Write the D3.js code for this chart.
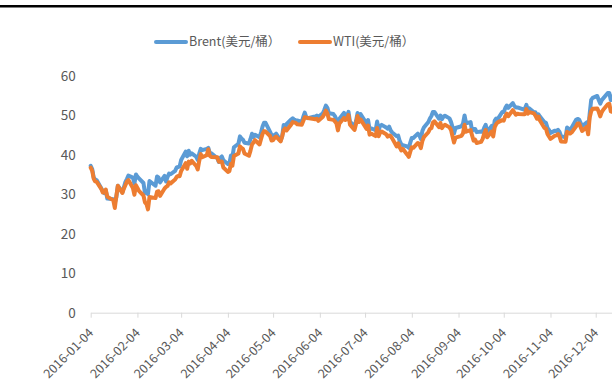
<!DOCTYPE html>
<html>
<head>
<meta charset="utf-8">
<script src="https://cdn.jsdelivr.net/npm/d3@7"></script>
<style>
  html, body { margin: 0; padding: 0; background: #fff; }
  svg { display: block; }
  text { font-family: "Noto Sans CJK SC", "Noto Sans", sans-serif; fill: #595959; }
</style>
</head>
<body>
<svg id="chart" width="612" height="385"></svg>
<script>
// 2016 trading days, grouped by month (day of month)
const tradingDays = [
  [4,5,6,7,8,11,12,13,14,15,19,20,21,22,25,26,27,28,29],
  [1,2,3,4,5,8,9,10,11,12,16,17,18,19,22,23,24,25,26,29],
  [1,2,3,4,7,8,9,10,11,14,15,16,17,18,21,22,23,24,28,29,30,31],
  [1,4,5,6,7,8,11,12,13,14,15,18,19,20,21,22,25,26,27,28,29],
  [2,3,4,5,6,9,10,11,12,13,16,17,18,19,20,23,24,25,26,27,31],
  [1,2,3,6,7,8,9,10,13,14,15,16,17,20,21,22,23,24,27,28,29,30],
  [1,5,6,7,8,11,12,13,14,15,18,19,20,21,22,25,26,27,28,29],
  [1,2,3,4,5,8,9,10,11,12,15,16,17,18,19,22,23,24,25,26,29,30,31],
  [1,2,6,7,8,9,12,13,14,15,16,19,20,21,22,23,26,27,28,29,30],
  [3,4,5,6,7,10,11,12,13,14,17,18,19,20,21,24,25,26,27,28,31],
  [1,2,3,4,7,8,9,10,11,14,15,16,17,18,21,22,23,25,28,29,30],
  [1,2,5,6,7,8,9,12,13,14,15,16,19,20,21,22,23,27,28,29,30]
];

// Brent, USD per barrel
const brent = [
  37.22,36.42,34.23,33.75,33.55,31.55,30.86,30.31,31.03,28.94,28.76,27.88,29.25,32.18,30.50,31.80,33.10,33.89,34.74,
  34.24,32.72,35.04,34.46,34.06,32.88,30.32,30.84,30.06,33.36,32.18,34.50,34.28,33.01,34.69,33.27,34.41,35.29,35.10,35.97,
  36.81,36.93,37.07,38.72,40.84,39.65,41.07,40.05,40.39,39.53,38.74,40.33,41.54,41.20,41.54,41.79,40.47,40.44,39.14,38.21,39.26,39.60,
  38.67,37.69,37.87,39.84,39.43,41.94,42.83,44.69,44.18,43.84,43.10,42.91,44.03,45.37,44.53,45.11,44.48,45.74,47.18,48.14,48.13,
  45.83,44.97,45.01,45.01,45.37,43.63,44.66,47.59,47.08,47.83,48.97,49.28,48.93,48.81,48.72,48.35,49.61,50.74,49.59,49.32,49.69,
  49.72,49.95,49.64,50.55,51.44,52.51,51.95,50.54,50.35,49.83,48.97,47.19,49.17,50.65,49.96,49.88,50.91,48.41,47.16,48.58,50.61,49.68,
  50.35,47.96,48.80,46.40,46.76,46.25,48.47,46.26,47.37,47.61,46.96,46.66,47.17,46.20,45.69,44.72,44.87,43.47,42.70,42.46,
  42.14,41.80,43.10,44.29,44.27,45.39,44.98,44.05,46.04,46.97,48.35,49.23,49.85,50.89,50.88,49.16,49.96,49.05,49.67,49.92,49.26,48.37,47.04,
  45.45,46.83,47.26,47.98,49.99,48.01,48.32,46.10,46.59,46.59,45.77,45.95,45.88,46.83,47.65,45.89,47.35,45.97,48.69,49.24,49.06,
  50.89,50.87,51.86,52.51,51.93,53.14,52.41,52.03,52.03,51.95,51.52,51.68,52.67,51.38,51.78,50.79,50.79,49.98,50.30,49.71,48.30,
  48.14,46.86,46.35,45.58,46.15,46.04,46.36,45.84,44.75,44.43,46.95,46.63,46.49,46.86,48.90,49.12,48.95,47.24,48.24,46.38,50.47,
  53.94,54.46,54.94,53.93,53.00,53.89,54.33,55.69,55.72,53.90,54.02,55.21,54.92,55.35,54.46,55.05,55.16,56.09,56.22,56.85,56.82
];

// WTI, USD per barrel
const wti = [
  36.76,35.97,33.97,33.27,33.16,31.41,30.44,30.48,31.20,29.42,28.46,26.55,29.53,32.19,30.34,31.45,32.30,33.22,33.62,
  31.62,29.90,32.29,31.63,30.86,29.71,27.96,27.54,26.19,29.32,29.05,30.68,30.77,29.62,31.48,31.87,32.15,33.07,32.78,33.75,
  34.40,34.66,34.57,35.92,37.90,36.50,38.29,37.84,38.50,37.18,36.34,38.46,40.20,39.44,39.91,41.45,39.79,39.46,39.39,38.28,38.34,38.34,
  36.79,35.70,35.89,37.75,37.26,39.72,40.36,42.17,41.76,41.50,40.36,39.78,41.08,42.63,43.18,43.73,42.64,44.04,45.33,46.03,45.92,
  44.78,43.65,43.78,44.32,44.66,43.44,44.66,46.23,46.70,46.21,47.72,48.31,48.19,48.12,47.75,47.67,48.62,49.56,49.48,49.33,49.10,
  49.01,49.17,48.62,49.69,50.36,51.23,50.52,49.07,48.88,48.49,48.01,46.21,47.98,49.37,48.85,49.13,50.11,47.64,46.33,47.85,49.88,48.33,
  48.99,46.60,47.43,45.14,45.41,44.76,46.80,44.75,45.68,45.95,45.24,44.65,44.94,44.75,44.19,42.13,42.92,41.92,41.14,41.54,
  40.06,39.51,40.83,41.93,41.80,43.02,42.77,41.71,43.49,44.49,45.74,46.58,46.79,48.22,48.52,47.05,48.10,46.77,47.33,47.64,46.98,46.35,44.70,
  43.16,44.39,44.83,45.50,47.62,45.88,46.28,44.90,43.62,43.85,43.03,43.30,44.05,45.34,46.32,44.48,45.93,44.67,47.05,47.83,48.24,
  48.81,48.69,49.81,50.44,49.81,51.35,50.79,50.18,50.44,50.35,50.29,50.29,51.60,50.43,50.85,50.52,49.96,49.18,49.72,48.70,46.83,
  46.66,45.32,44.66,44.07,44.88,44.96,45.27,44.66,43.41,43.32,45.84,45.57,45.42,45.69,47.24,47.96,47.96,46.06,47.08,45.23,49.44,
  51.06,51.68,51.79,50.93,49.77,50.84,51.46,52.83,52.98,51.04,50.90,51.90,52.13,52.22,52.92,52.95,53.02,53.90,53.89,53.77,53.75
];

const xTickLabels = ["2016-01-04","2016-02-04","2016-03-04","2016-04-04","2016-05-04","2016-06-04",
                     "2016-07-04","2016-08-04","2016-09-04","2016-10-04","2016-11-04","2016-12-04"];
const yTicks = [0, 10, 20, 30, 40, 50, 60];
const seriesNames = ["Brent(美元/桶）", "WTI(美元/桶）"];
const seriesColors = ["#5B9BD5", "#ED7D31"];

const parse = d3.timeParse("%Y-%m-%d");
const dates = tradingDays.flatMap((days, m) => days.map(d => new Date(2016, m, d)));

const svg = d3.select("#chart");

// frame rule across the top
svg.append("rect").attr("x", 0).attr("y", 5).attr("width", 612).attr("height", 2.5).attr("fill", "#000");

const x0 = 90.7, pxPerDay = 1.5075;
const dayMs = 86400000;
const xStart = parse("2016-01-04"), xEnd = parse("2016-12-30");
const x = d3.scaleTime()
  .domain([xStart, xEnd])
  .range([x0, x0 + (xEnd - xStart) / dayMs * pxPerDay]);
const y = d3.scaleLinear().domain([0, 60]).range([312.7, 76]);

// x axis
const xAxis = d3.axisBottom(x)
  .tickValues(xTickLabels.map(parse))
  .tickFormat(d3.timeFormat("%Y-%m-%d"))
  .tickSize(5)
  .tickSizeOuter(0);
const gx = svg.append("g").attr("transform", `translate(0,${y(0)})`).call(xAxis);
gx.select(".domain").attr("stroke", "#d9d9d9").attr("stroke-width", 1);
gx.selectAll(".tick line").attr("stroke", "#d9d9d9");
gx.selectAll(".tick text")
  .attr("font-size", 12.5)
  .attr("fill", "#595959")
  .attr("text-anchor", "end")
  .attr("y", 0).attr("dy", 0)
  .attr("transform", "translate(3,21) rotate(-45)");

// y axis (labels only)
const yAxis = d3.axisLeft(y).tickValues(yTicks).tickSize(0).tickPadding(15);
const gy = svg.append("g").attr("transform", `translate(${x0},0)`).call(yAxis);
gy.select(".domain").remove();
gy.selectAll(".tick text").attr("font-size", 13.5).attr("fill", "#595959");

// price lines (WTI drawn over Brent)
const line = d3.line().x((d, i) => x(dates[i])).y(d => y(d));
[brent, wti].forEach((vals, k) => {
  svg.append("path")
    .datum(vals)
    .attr("d", line)
    .attr("fill", "none")
    .attr("stroke", seriesColors[k])
    .attr("stroke-width", 4)
    .attr("stroke-linejoin", "round")
    .attr("stroke-linecap", "round");
});

// legend
const legendX = [156, 300];
seriesNames.forEach((name, k) => {
  const g = svg.append("g").attr("transform", `translate(${legendX[k]},42)`);
  g.append("line").attr("x1", 0).attr("x2", 30).attr("y1", 0).attr("y2", 0)
    .attr("stroke", seriesColors[k]).attr("stroke-width", 4).attr("stroke-linecap", "round");
  g.append("text").attr("x", 33).attr("y", 0).attr("dy", "0.35em")
    .attr("font-size", 12.5).attr("fill", "#595959").text(name);
});
</script>
</body>
</html>
